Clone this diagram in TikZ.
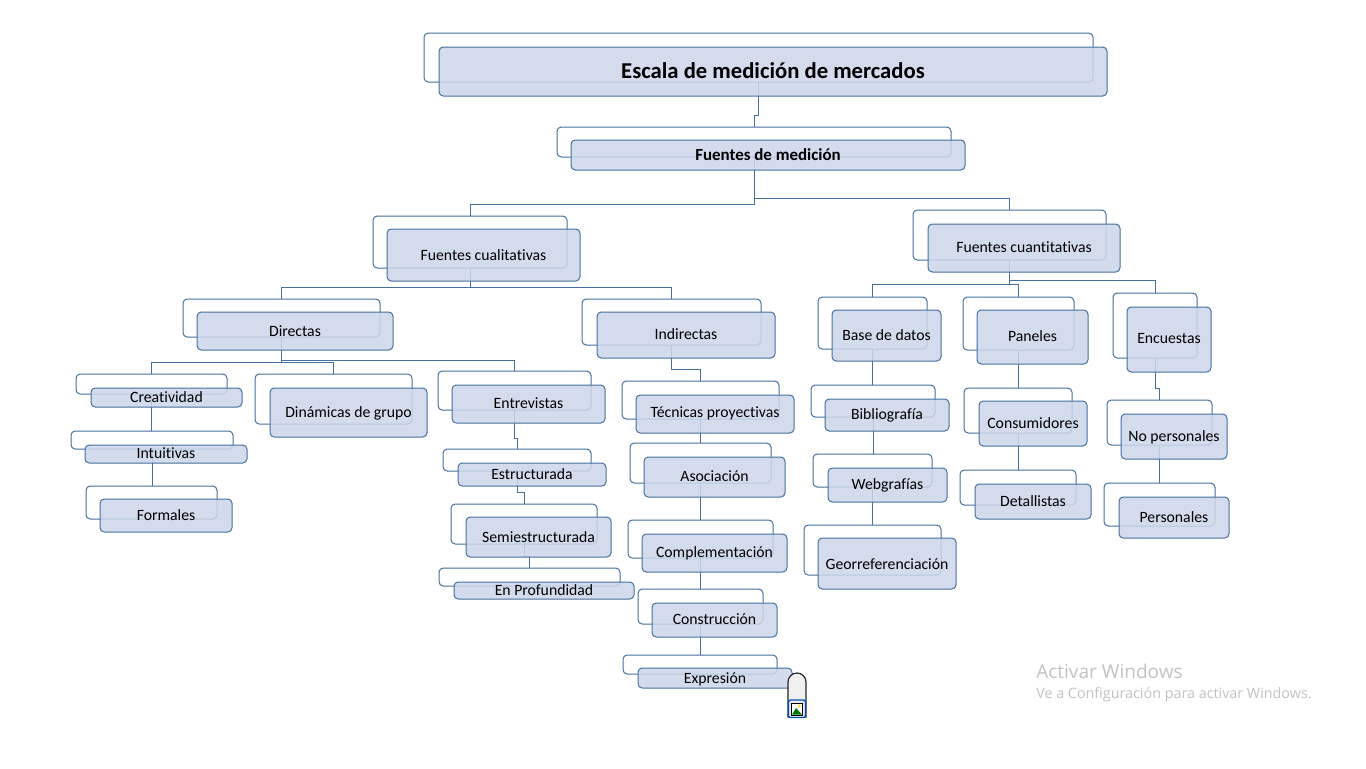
\documentclass[tikz,border=0pt]{standalone}
\usepackage{fontspec}
\setmainfont[Ligatures=NoCommon]{Carlito}
\newfontfamily\winfont{Open Sans}
\definecolor{edge}{HTML}{44709F}
\definecolor{panel}{HTML}{CDD6E9}
\tikzset{
  backbox/.style={draw=edge,fill=white,line width=.75pt,rounded corners=3.2pt,inner sep=0pt,outer sep=0pt},
  frontbox/.style={draw=edge,fill=panel,fill opacity=.86,text opacity=1,line width=.75pt,rounded corners=3.2pt,inner sep=0pt,outer sep=0pt,align=center,text=black,font=\fontsize{11.8pt}{13pt}\selectfont},
  titletext/.style={font=\fontsize{17pt}{20pt}\selectfont\bfseries},
  subtext/.style={font=\fontsize{12.7pt}{15pt}\selectfont\bfseries},
  conn/.style={draw=edge,line width=.75pt},
  wintext/.style={text=black!24,inner sep=0pt,anchor=west}
}
\newcommand{\lab}[2]{\raisebox{\dimexpr-.3em+#1\dimexpr.75pt\relax\relax}[0pt][0pt]{#2}}
\newcommand{\bk}[5]{\node[backbox,minimum width={(#4-#2)*.75pt},minimum height={(#5-#3)*.75pt}] (#1b) at ({(#2+#4)/2},{(#3+#5)/2}) {};}
\newcommand{\fr}[6][0]{\node[frontbox,minimum width={(#5-#3)*.75pt},minimum height={(#6-#4)*.75pt}] (#2) at ({(#3+#5)/2},{(#4+#6)/2}) {\lab{#1}{\frtext}};}
\newcommand{\elb}[3]{\draw[conn] (#1b.south) -- (#1b.south |- 0,#3) -| (#2b.north);}
\newcommand{\str}[2]{\draw[conn] (#1b.south) -- (#1b.south |- #2b.north);}
\newcommand{\frn}[7][0]{\def\frtext{#7}\fr[#1]{#2}{#3}{#4}{#5}{#6}}
\begin{document}
\begin{tikzpicture}[x=.75pt,y=-.75pt]
\fill[white] (0,0) rectangle (1366,768);
\useasboundingbox (0,0) rectangle (1366,768);
% back boxes
\bk{title}{424}{33}{1093}{82}
\bk{fm}{557}{127}{951}{157}
\bk{cual}{373}{216}{567}{268}
\bk{cuan}{913}{210}{1106}{260}
\bk{dir}{183}{299}{380}{337}
\bk{ind}{582}{299}{761}{345}
\bk{cre}{76}{374}{227}{394}
\bk{din}{255}{374}{412}{424}
\bk{ent}{438}{371}{591}{410}
\bk{intu}{71}{431}{233}{449}
\bk{form}{86}{486}{217}{519}
\bk{est}{443}{449}{591}{471}
\bk{semi}{451}{504}{597}{544}
\bk{prof}{439}{568}{620}{586}
\bk{tec}{622}{381}{779}{419}
\bk{aso}{630}{443}{771}{483}
\bk{comp}{628}{520}{773}{558}
\bk{cons}{638}{589}{763}{624}
\bk{expr}{623}{655}{777}{674}
\bk{base}{818}{297}{927}{349}
\bk{pan}{963}{297}{1074}{350}
\bk{enc}{1113}{293}{1197}{358}
\bk{bib}{811}{385}{935}{417}
\bk{web}{813}{454}{932}{487}
\bk{geo}{804}{525}{941}{575}
\bk{cmd}{964}{388}{1072}{433}
\bk{det}{960}{470}{1076}{505}
\bk{nop}{1107}{400}{1212}{445}
\bk{per}{1104}{483}{1215}{526}
% connectors
\elb{title}{fm}{115}
\elb{fm}{cual}{204}
\elb{fm}{cuan}{198}
\elb{cual}{dir}{287}
\elb{cual}{ind}{287}
\elb{dir}{cre}{362}
\elb{dir}{din}{362}
\elb{dir}{ent}{360}
\str{cre}{intu}
\str{intu}{form}
\elb{ent}{est}{438}
\elb{est}{semi}{492}
\elb{semi}{prof}{556}
\elb{ind}{tec}{369}
\str{tec}{aso}
\str{aso}{comp}
\str{comp}{cons}
\str{cons}{expr}
\elb{cuan}{base}{284}
\elb{cuan}{pan}{284}
\elb{cuan}{enc}{280}
\str{base}{bib}
\str{bib}{web}
\str{web}{geo}
\str{pan}{cmd}
\str{cmd}{det}
\elb{enc}{nop}{388}
\str{nop}{per}
% front boxes
\node[frontbox,titletext,minimum width={668*.75pt},minimum height={49*.75pt}] (title) at (773,71.5) {\lab{0}{Escala de medición de mercados}};
\node[frontbox,subtext,minimum width={394*.75pt},minimum height={30*.75pt}] (fm) at (768,155) {\lab{0}{Fuentes de medición}};
\frn[-1]{cual}{387}{229}{580}{281}{Fuentes cualitativas}
\frn{cuan}{928}{224}{1120}{272}{Fuentes cuantitativas}
\frn[-1]{dir}{197}{312}{393}{350}{Directas}
\frn{ind}{597}{312}{775}{358}{Indirectas}
\frn{cre}{91}{388}{242}{407}{Creatividad}
\frn{din}{270}{388}{427}{437}{Dinámicas de grupo}
\frn{ent}{452}{385}{605}{423}{Entrevistas}
\frn{intu}{85}{445}{247}{463}{Intuitivas}
\frn{form}{100}{499}{232}{532}{Formales}
\frn{est}{458}{463}{606}{486}{Estructurada}
\frn[-1]{semi}{466}{517}{611}{557}{Semiestructurada}
\frn{prof}{454}{582}{634}{599}{En Profundidad}
\frn[1]{tec}{636}{395}{794}{433}{Técnicas proyectivas}
\frn{aso}{644}{457}{785}{497}{Asociación}
\frn{comp}{642}{534}{787}{572}{Complementación}
\frn{cons}{652}{603}{777}{637}{Construcción}
\frn[-1]{expr}{638}{668}{792}{688}{Expresión}
\frn{base}{832}{310}{941}{361}{Base de datos}
\frn{pan}{977}{310}{1088}{364}{Paneles}
\frn[1]{enc}{1127}{307}{1211}{372}{Encuestas}
\frn{bib}{825}{399}{949}{431}{Bibliografía}
\frn{web}{828}{468}{947}{502}{Webgrafías}
\frn[-1]{geo}{818}{538}{956}{589}{Georreferenciación}
\frn{cmd}{979}{401}{1087}{446}{Consumidores}
\frn{det}{975}{484}{1091}{519}{Detallistas}
\frn{nop}{1121}{414}{1227}{459}{No personales}
\frn{per}{1119}{497}{1229}{538}{Personales}
% selection handle
\draw[black!85,fill=blue!3!black!6!white,line width=.9pt] (788,717) -- (788,682) arc[start angle=180,end angle=360,radius=9] -- (806,717) -- cycle;
\draw[blue!55!cyan!70!black,fill=blue!8!white,line width=1pt,rounded corners=1.5pt] (788.5,700) rectangle (805.5,717.5);
\fill[white,draw=black,line width=.7pt] (791.5,703) rectangle (802.5,715);
\fill[yellow!80!orange] (799.5,706) circle[radius=1.5];
\fill[green!45!black] (792,714.6) -- (796,708) -- (802,714.6) -- cycle;
% watermark
\node[wintext,font=\winfont\fontsize{14.3pt}{16pt}\selectfont] (wm1) at (1036,671) {Activar Windows};
\node[wintext,font=\winfont\fontsize{10.75pt}{12pt}\selectfont] (wm2) at (1036,694.5) {Ve a Configuración para activar Windows.};
\end{tikzpicture}
\end{document}
